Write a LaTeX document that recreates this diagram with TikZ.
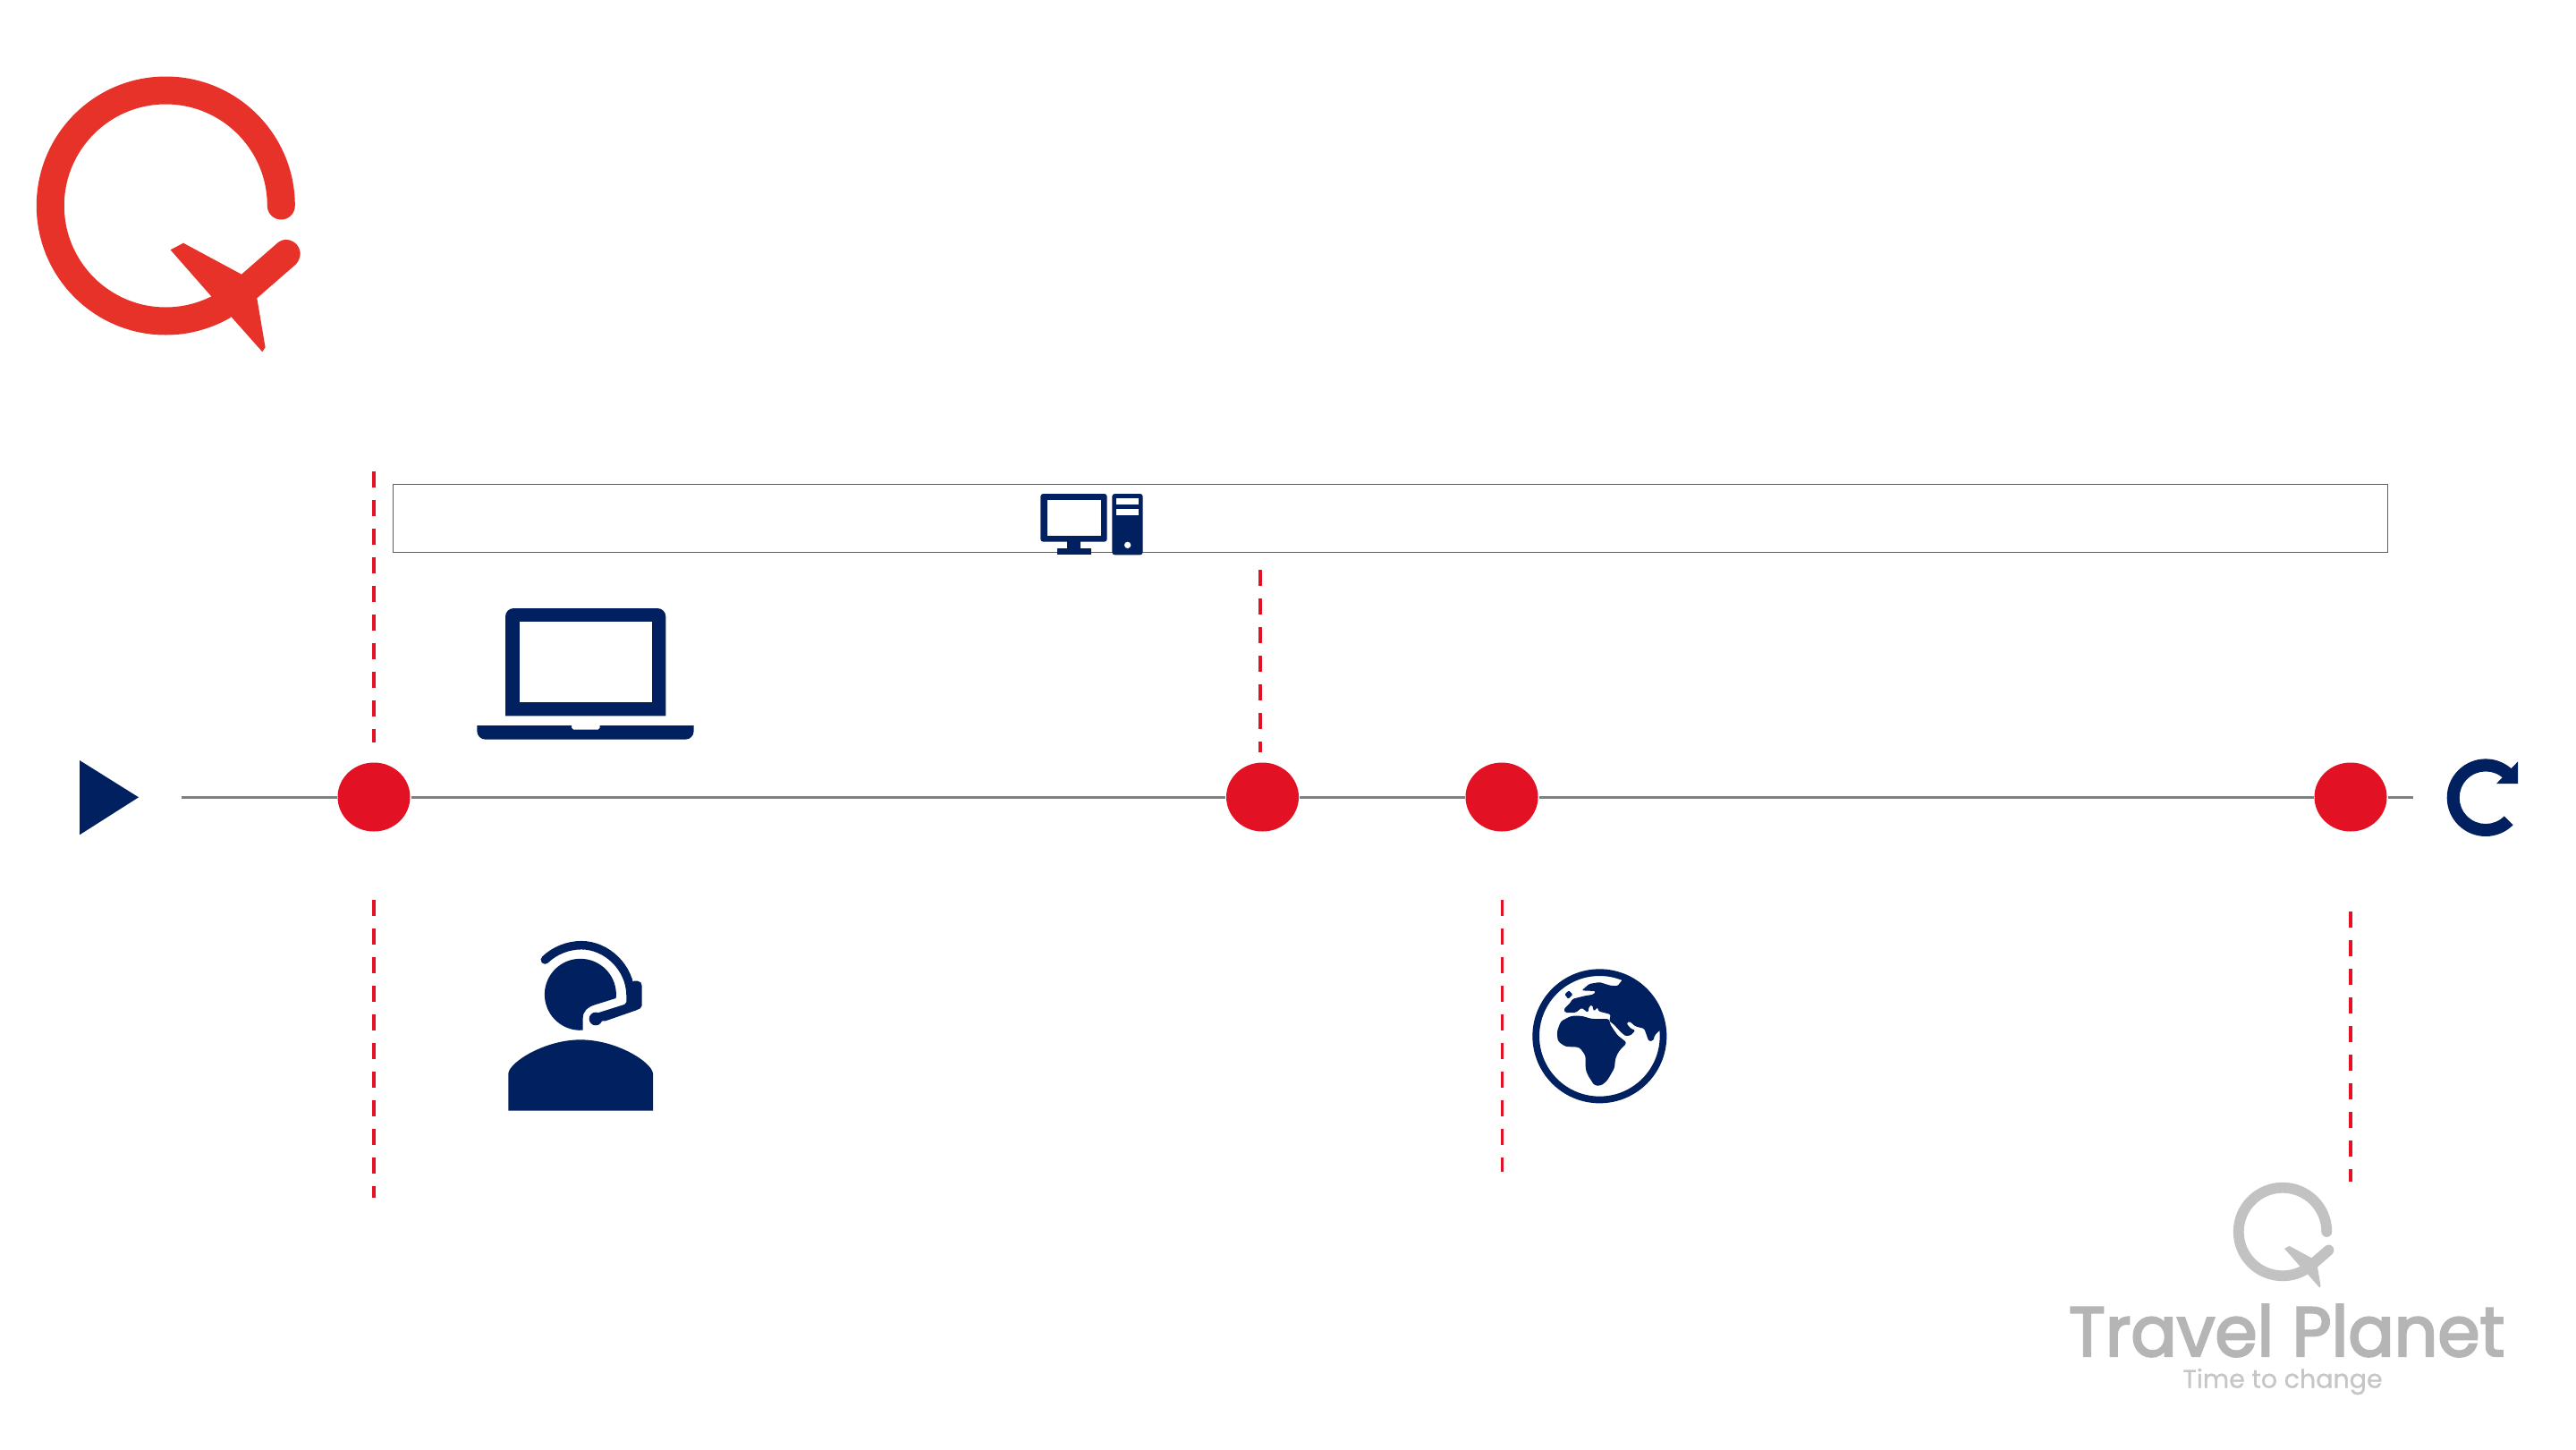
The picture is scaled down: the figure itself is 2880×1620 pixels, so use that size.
\documentclass[tikz,border=0pt]{standalone}
\usepackage{fontspec}
\usetikzlibrary{shapes.geometric}
\newfontfamily\popfont{Poppins}[FakeBold=3]
\newfontfamily\popsub{Poppins}[FakeBold=0.8]
\definecolor{navy}{HTML}{00205F}
\definecolor{dotred}{HTML}{E31124}
\definecolor{logored}{HTML}{E73229}
\definecolor{boxred}{HTML}{D8293A}
\definecolor{axisgray}{HTML}{808080}
\definecolor{logogray}{HTML}{C2C2C2}
\definecolor{wordgray}{HTML}{B5B5B5}
\definecolor{subgray}{HTML}{C6C6C6}
\tikzset{
  dotnode/.style={ellipse,fill=dotred,minimum width=81pt,minimum height=77pt,inner sep=0pt,outer sep=1pt},
  axisline/.style={draw=axisgray,line width=3pt},
  guide/.style={draw=dotred,line width=3.8pt,dash pattern=on 18pt off 14pt},
  band/.style={draw=boxred,line width=1pt},
}
% Q logo with plane: #1 centre x, #2 centre y, #3 scale, #4 colour
\newcommand{\qlogo}[4]{%
  \begin{scope}[shift={(#1,#2)},scale=#3]
    \draw[#4,line width=31*#3 pt] (129,0) arc[start angle=0,end angle=-300.5,radius=129];
    \fill[#4] (129,0) circle[radius=15.5];
    \fill[#4] (5.3,49.3) -- (19.7,41.7) -- (84.7,76.7)
      -- (126,40.7) .. controls (136,33) and (153,42) .. (150,57) .. controls (149,60) and (148,63) .. (146,65)
      -- (102,103.3) -- (111.3,158.3) -- (108,163.3) -- (74,125) -- (51.3,101.7) -- cycle;
  \end{scope}}
\begin{document}
\begin{tikzpicture}[x=1pt,y=-1pt]
\useasboundingbox[fill=white] (0,0) rectangle (2880,1620);

% logos
\qlogo{185.3}{230}{1}{logored}
\qlogo{2552}{1377}{0.382}{logogray}
\node[anchor=base,inner sep=0pt,text=wordgray,font=\popfont\fontsize{78}{78}\selectfont] (brand) at (2556.5,1516) {\scalebox{0.975}[1]{Travel Planet}};
\node[anchor=base,inner sep=0pt,text=subgray,font=\popsub\fontsize{28.5}{28.5}\selectfont] (slogan) at (2552,1551.5) {Time to change};

% band
\node[band,minimum width=2230pt,minimum height=76pt,inner sep=0pt,anchor=north west] (bandbox) at (439.3,541.3) {};

% timeline
\coordinate (tstart) at (203,891);
\coordinate (tend) at (2698,891);
\node[dotnode] (d1) at (418,891) {};
\node[dotnode] (d2) at (1411.5,891) {};
\node[dotnode] (d3) at (1679,891) {};
\node[dotnode] (d4) at (2628,891) {};
\draw[axisline] (tstart) -- (d1);
\draw[axisline] (d1) -- (d2);
\draw[axisline] (d2) -- (d3);
\draw[axisline] (d3) -- (d4);
\draw[axisline] (d4) -- (tend);

% guides
\coordinate (g1a) at (418,527); \coordinate (g1b) at (418,830);
\coordinate (g2a) at (1409,637); \coordinate (g2b) at (1409,841);
\coordinate (g3a) at (418,1006); \coordinate (g3b) at (418,1339);
\coordinate (g4a) at (1679.5,1006); \coordinate (g4b) at (1679.5,1310);
\coordinate (g5a) at (2628,1019); \coordinate (g5b) at (2628,1321);
\draw[guide] (g1a) -- (g1b);
\draw[guide] (g2a) -- (g2b);
\draw[guide] (g3a) -- (g3b);
\draw[guide] (g4a) -- (g4b);
\draw[guide] (g5a) -- (g5b);

% start triangle
\fill[navy] (89,850) -- (155,891.3) -- (89,933.3) -- cycle;

% restart arrow
\begin{scope}[shift={(2779,891.7)}]
  \fill[navy] (30.6,30.6) arc[start angle=45,end angle=315,radius=43.3]
    -- (20.7,-20.7) arc[start angle=-45,end angle=-315,radius=29.3] -- cycle;
  \fill[navy] (36,-40.3) -- (36,-15.7) -- (12,-15.7) -- cycle;
\end{scope}

% desktop icon
\begin{scope}[shift={(1140,530)},scale=1/3]
  \fill[navy,rounded corners=3pt] (70,66) rectangle (293,227);
  \fill[white] (92,88) rectangle (273,206);
  \fill[navy] (160,225) rectangle (205,252);
  \fill[navy] (126,250) rectangle (239,271);
  \fill[navy,rounded corners=3pt] (310,66) rectangle (413,271);
  \fill[white] (325,82) rectangle (399,103);
  \fill[white] (325,117) rectangle (399,139);
  \fill[white] (362,238) circle[radius=11];
\end{scope}

% laptop icon
\begin{scope}[shift={(510,660)},scale=1/3]
  \fill[navy] (165,421) -- (165,88) arc[start angle=180,end angle=270,radius=28] -- (675,60)
    arc[start angle=-90,end angle=0,radius=28] -- (703,421) -- cycle;
  \fill[white] (212,106) rectangle (656,375);
  \fill[navy] (70,453) -- (387,453) -- (387,461) -- (393,467) -- (476,467) -- (482,461) -- (482,453) -- (797,453) -- (797,472)
    arc[start angle=0,end angle=90,radius=28] -- (98,500) arc[start angle=90,end angle=180,radius=28] -- cycle;
\end{scope}

% agent icon
\begin{scope}[shift={(550,1040)},scale=1/3]
  \fill[navy] (55,605) -- (55,480) .. controls (60,440) and (180,367) .. (297,367)
    .. controls (415,367) and (535,440) .. (540,480) -- (540,605) -- cycle;
  \fill[navy] (305,335) arc[start angle=86,end angle=366,radius=120]
    -- (345,250) .. controls (320,258) and (305,272) .. (305,295) -- cycle;
  \fill[navy,rounded corners=2pt] (470,170) -- (495,170) -- (503,180) -- (503,258) -- (490,266) -- (375,306)
    -- (352,300) -- (352,278) -- (450,247) -- cycle;
  \fill[navy] (348,297) circle[radius=22];
  \draw[navy,line width=9.5pt,line cap=round] (178,99)
    .. controls (210,68) and (255,50) .. (300,50) .. controls (385,50) and (463,125) .. (465,215) -- (465,240);
\end{scope}

% globe icon
\begin{scope}[shift={(1700,1070)},scale=1/3]
  \fill[navy,even odd rule] (265,265) circle[radius=225] (265,265) circle[radius=202];
  \fill[navy,rounded corners=1.5pt] (205,112) -- (230,90) -- (265,84) -- (300,95) -- (325,97) -- (345,72)
    -- (400,100) -- (445,160) -- (472,240) -- (450,262) -- (445,280) -- (430,282) -- (415,240) -- (385,232) -- (365,215) -- (355,222)
    -- (370,240) -- (385,245) -- (370,262) -- (352,265) -- (335,250) -- (312,225) -- (298,215) -- (302,192) -- (275,185) -- (262,182) -- (258,168)
    -- (246,182) -- (240,160) -- (230,165) -- (226,186) -- (205,170) -- (185,186) -- (150,186) -- (145,175) -- (165,155) -- (175,140)
    -- (215,130) -- (245,125) -- (252,114) -- cycle;
  \fill[navy,rounded corners=1pt] (148,125) -- (162,112) -- (175,125) -- (160,140) -- cycle;
  \fill[navy,rounded corners=3pt] (122,250) -- (135,215) -- (170,197) -- (205,197) -- (238,207) -- (298,207) -- (300,225) -- (325,262) -- (357,287)
    -- (330,315) -- (318,340) -- (315,372) -- (290,415) -- (270,431) -- (248,431) -- (225,395) -- (218,375) -- (218,330) -- (197,302) -- (150,300) -- (125,282) -- cycle;
\end{scope}
\end{tikzpicture}
\end{document}
